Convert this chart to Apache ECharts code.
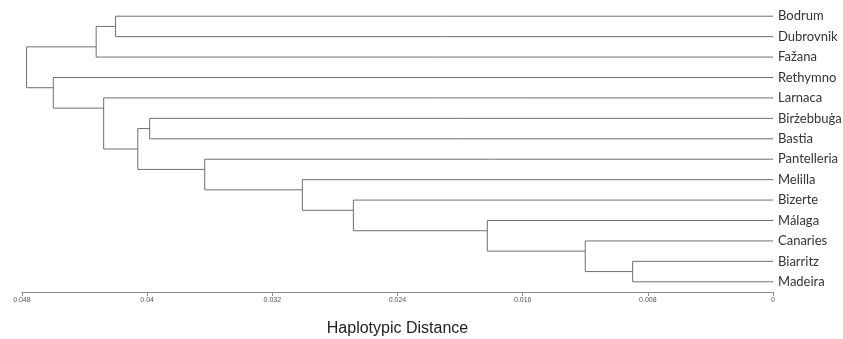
<!DOCTYPE html>
<html lang="en">
  <head>
    <meta charset="UTF-8" />
    <script src="https://cdn.jsdelivr.net/npm/echarts@6/dist/echarts.min.js"></script>
    <title>Haplotypic distance dendrogram</title>
  </head>
  <body style="margin: 0; background: #fff">
    <div id="chart" style="width: 843px; height: 339px"></div>
  </body>
</html>

<script>
  // leaves, top to bottom
  const leaves = [
    "Bodrum", "Dubrovnik", "Fažana", "Rethymno", "Larnaca", "Birżebbuġa", "Bastia",
    "Pantelleria", "Melilla", "Bizerte", "Málaga", "Canaries", "Biarritz", "Madeira",
  ];
  // merges: [name, left child, right child, height]
  const merges = [
    ["n1", "Biarritz", "Madeira", 0.00897],
    ["n2", "Canaries", "n1", 0.012],
    ["n3", "Málaga", "n2", 0.01826],
    ["n4", "Bizerte", "n3", 0.02682],
    ["n5", "Melilla", "n4", 0.03008],
    ["n6", "Pantelleria", "n5", 0.03632],
    ["n7", "Birżebbuġa", "Bastia", 0.03984],
    ["n8", "n7", "n6", 0.0406],
    ["n9", "Larnaca", "n8", 0.04278],
    ["n10", "Rethymno", "n9", 0.046],
    ["n11", "Bodrum", "Dubrovnik", 0.04202],
    ["n12", "n11", "Fažana", 0.04326],
    ["n13", "n12", "n10", 0.04771],
  ];
  const xTicks = { min: 0, max: 0.048, step: 0.008 };

  // node positions: x = height, y = boundary between the two child clusters
  const nodes = {};
  leaves.forEach((name, i) => {
    nodes[name] = { x: 0, y: i, first: i, last: i };
  });
  const links = merges.map(([name, a, b, h]) => {
    const A = nodes[a];
    const B = nodes[b];
    nodes[name] = { x: h, y: A.last + 0.5, first: A.first, last: B.last };
    return [A.x, A.y, h, B.x, B.y];
  });

  const lineColor = "#6f6f6f";
  const chart = echarts.init(document.getElementById("chart"), null, { renderer: "canvas" });

  chart.setOption({
    animation: false,
    grid: { left: 22, right: 70, top: 6, bottom: 47, outerBoundsMode: "none", containLabel: false },
    xAxis: {
      type: "value",
      inverse: true,
      position: "bottom",
      min: xTicks.min,
      max: xTicks.max,
      interval: xTicks.step,
      splitLine: { show: false },
      axisLine: { show: true, onZero: false, lineStyle: { color: "#8a8a8a" } },
      axisTick: { show: true, length: 4, lineStyle: { color: "#8a8a8a" } },
      axisLabel: { fontSize: 7, color: "#555", margin: 5, fontFamily: "Liberation Sans" },
      name: "Haplotypic Distance",
      nameLocation: "middle",
      nameGap: 29,
      nameTextStyle: { fontSize: 16, color: "#222", fontFamily: "Liberation Sans" },
    },
    yAxis: [
      {
        type: "value",
        min: -0.5,
        max: leaves.length - 0.5,
        inverse: true,
        show: false,
      },
      {
        type: "category",
        data: leaves,
        inverse: true,
        position: "right",
        axisLine: { show: false },
        axisTick: { show: false },
        splitLine: { show: false },
        axisLabel: { margin: 5, fontSize: 13, color: "#333", fontFamily: "Lato", interval: 0 },
      },
    ],
    series: [
      {
        type: "custom",
        yAxisIndex: 0,
        data: links,
        renderItem: (params, api) => {
          const p1 = api.coord([api.value(0), api.value(1)]);
          const p2 = api.coord([api.value(2), api.value(1)]);
          const p3 = api.coord([api.value(2), api.value(4)]);
          const p4 = api.coord([api.value(3), api.value(4)]);
          return {
            type: "polyline",
            shape: { points: [p1, p2, p3, p4] },
            style: { stroke: lineColor, lineWidth: 1, fill: null },
          };
        },
      },
    ],
  });
</script>
